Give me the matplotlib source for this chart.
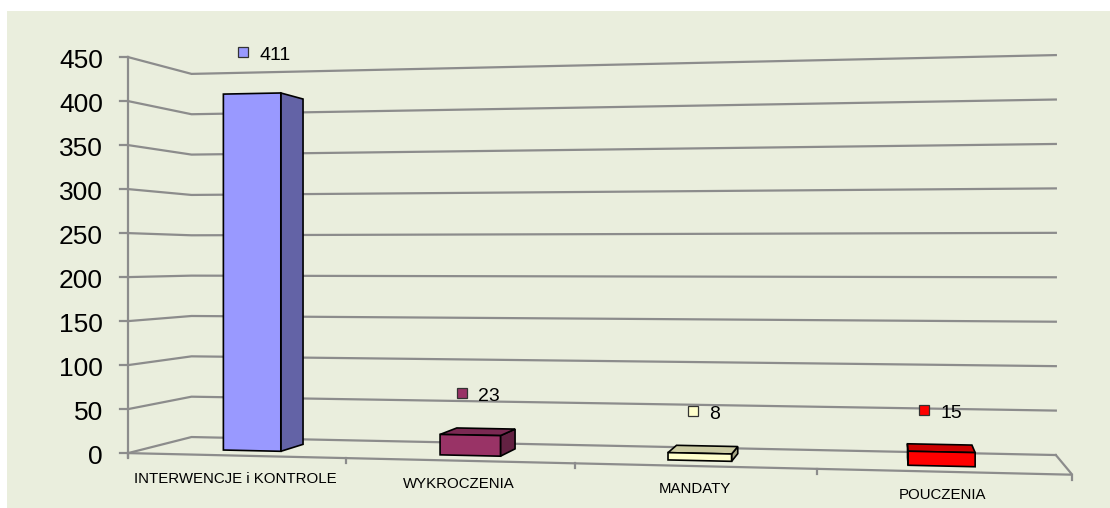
import numpy as np
import matplotlib
matplotlib.use('Agg')
import matplotlib.pyplot as plt
from matplotlib.patches import Polygon, Rectangle
from matplotlib.colors import to_rgb

# ---- data ----
categories = ['INTERWENCJE i KONTROLE', 'WYKROCZENIA', 'MANDATY', 'POUCZENIA']
values = [411, 23, 8, 15]
value_ticks = [0, 50, 100, 150, 200, 250, 300, 350, 400, 450]
colors = ['#9999FF', '#993366', '#FFFFCC', '#FF0000']

plt.rcParams['font.family'] = ['Liberation Sans', 'DejaVu Sans']

# ---- perspective projection (layout constants) ----
# world: X = category units (0..n), Y = value, Z = depth (0 front .. 1 back)
D0, DX, DZ = 0.917, -0.023, 0.083
L0, LX, LZ = 117.4, 191.8, 74.1
YH, SY, YC = 259.5, 0.807, 220.0
ncat = len(categories)
ymax = value_ticks[-1]


def proj(X, Y, Z):
    d = D0 + DX * X + DZ * Z
    return (L0 + LX * X + LZ * Z) / d, YH + SY * (YC - Y) / d


cam_xz = np.linalg.solve([[DX, DZ], [LX, LZ]], [-D0, -L0])
cam = np.array([cam_xz[0], YC, cam_xz[1]])

W, H = 1110, 508
fig = plt.figure(figsize=(W / 100, H / 100), dpi=100)
fig.patch.set_facecolor('white')
ax = fig.add_axes([0, 0, 1, 1])
ax.set_xlim(0, W)
ax.set_ylim(H, 0)
ax.axis('off')

ax.add_patch(Rectangle((7, 11), W - 7, H - 11, facecolor='#EAEEDD',
                       edgecolor='none', zorder=0))

GRID = '#8C8C8C'
GLW = 1.6

# gridlines on left wall and back wall
for v in value_ticks:
    pts = [proj(0, v, 0), proj(0, v, 1), proj(ncat, v, 1)]
    ax.plot([p[0] for p in pts], [p[1] for p in pts], color=GRID, lw=GLW,
            solid_joinstyle='miter', zorder=1)
    # tick mark on value axis
    fx, fy = proj(0, v, 0)
    ax.plot([fx - 8, fx], [fy, fy], color=GRID, lw=GLW, zorder=1)
    ax.text(fx - 25, fy + 11, str(v), ha='right', va='baseline',
            fontsize=19, color='black', zorder=5)

# value axis (front-left vertical)
p0 = proj(0, 0, 0)
p1 = proj(0, ymax, 0)
ax.plot([p0[0], p1[0]], [p0[1] + 4, p1[1]], color=GRID, lw=GLW, zorder=1)

# floor front edge and right edge
pts = [proj(0, 0, 0), proj(ncat, 0, 0), proj(ncat, 0, 1)]
ax.plot([p[0] for p in pts], [p[1] for p in pts], color=GRID, lw=GLW,
        solid_joinstyle='miter', zorder=1)
for i in range(ncat + 1):
    tx, ty = proj(i, 0, 0)
    ax.plot([tx, tx], [ty, ty + 5], color=GRID, lw=GLW, zorder=1)

# category labels
for i, c in enumerate(categories):
    lx, ly = proj(i + 0.5, 0, 0)
    ax.text(lx, ly + 27, c, ha='center', va='baseline', fontsize=10.8,
            color='black', zorder=5)

# bars
half_w = 0.135
z0, z1 = 0.28, 0.70


def shade(col, f):
    r, g, b = to_rgb(col)
    return (r * f, g * f, b * f)


for i, (v, col) in enumerate(zip(values, colors)):
    x0, x1 = i + 0.5 - half_w, i + 0.5 + half_w
    faces = [
        ('back', [(x0, 0, z1), (x1, 0, z1), (x1, v, z1), (x0, v, z1)], (0, 0, 1), 0.6),
        ('bottom', [(x0, 0, z0), (x1, 0, z0), (x1, 0, z1), (x0, 0, z1)], (0, -1, 0), 0.6),
        ('left', [(x0, 0, z0), (x0, 0, z1), (x0, v, z1), (x0, v, z0)], (-1, 0, 0), 0.65),
        ('right', [(x1, 0, z0), (x1, 0, z1), (x1, v, z1), (x1, v, z0)], (1, 0, 0), 0.65),
        ('top', [(x0, v, z0), (x1, v, z0), (x1, v, z1), (x0, v, z1)], (0, 1, 0), 0.8),
        ('front', [(x0, 0, z0), (x1, 0, z0), (x1, v, z0), (x0, v, z0)], (0, 0, -1), 1.0),
    ]
    for name, verts, n, f in faces:
        ctr = np.mean(np.array(verts, dtype=float), axis=0)
        if np.dot(cam - ctr, np.array(n, dtype=float)) <= 0:
            continue
        poly = [proj(*p) for p in verts]
        ax.add_patch(Polygon(poly, closed=True, facecolor=shade(col, f),
                             edgecolor='black', lw=1.2, joinstyle='miter',
                             zorder=3))

# data labels with legend keys
fig.canvas.draw()
renderer = fig.canvas.get_renderer()
for i, (v, col) in enumerate(zip(values, colors)):
    ax_, _ = proj(i + 0.5, v, 0.5)
    _, ay_ = proj(i + 0.5, v, z0)
    cy = ay_ - 42
    t = ax.text(0, cy + 8, str(v), ha='left', va='baseline', fontsize=14,
                color='black', zorder=6)
    tw = t.get_window_extent(renderer=renderer).width
    total = 21 + tw
    gx = ax_ - total / 2
    ax.add_patch(Rectangle((gx, cy - 5), 10, 10, facecolor=col,
                           edgecolor='#333333', lw=0.9, zorder=6))
    t.set_x(gx + 21)

fig.savefig('out.png', dpi=100)
